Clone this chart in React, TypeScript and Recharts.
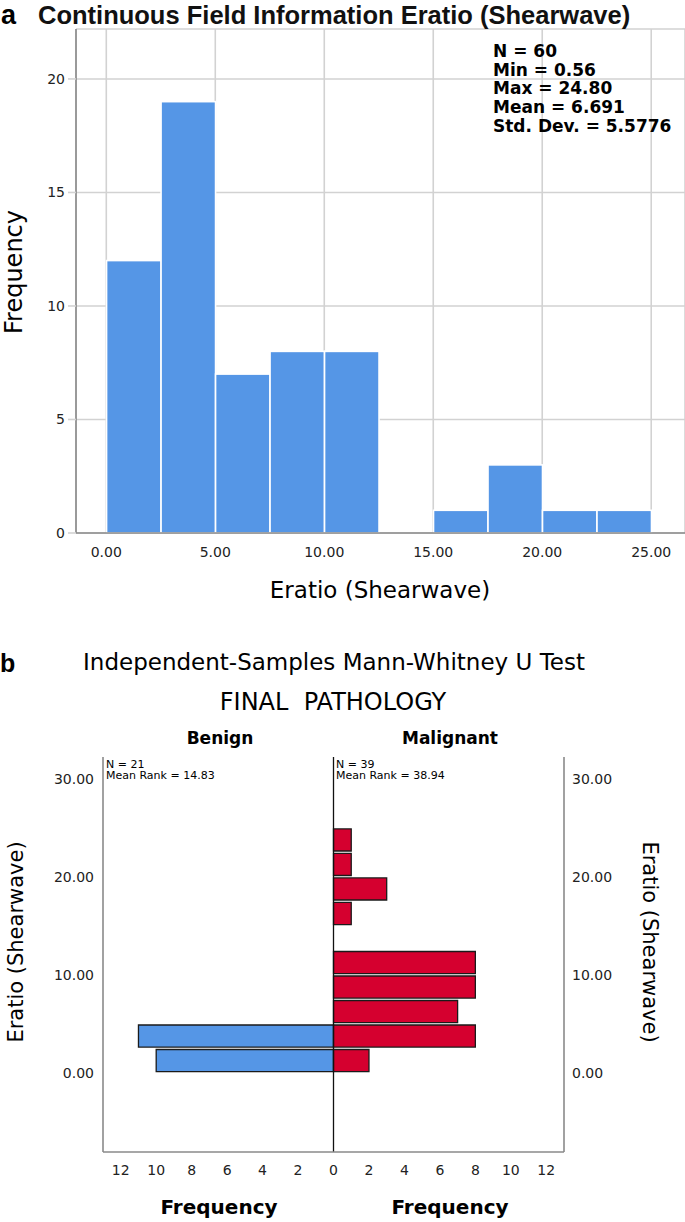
import React from 'react';
import { BarChart, Bar, XAxis, YAxis, CartesianGrid, ReferenceLine } from 'recharts';

// histogram bins (lower edge, width 2.5)
const binStarts = [0, 2.5, 5, 7.5, 10, 12.5, 15, 17.5, 20, 22.5];
const allCounts = [12, 19, 7, 8, 8, 0, 1, 3, 1, 1];
const benignCounts = [10, 11, 0, 0, 0, 0, 0, 0, 0, 0];
const malignantCounts = [2, 8, 7, 8, 8, 0, 1, 3, 1, 1];

const eratioTicks = [0, 5, 10, 15, 20, 25];
const freqTicks = [0, 5, 10, 15, 20];
const eratioTicksB = [0, 10, 20, 30];
const freqTicksB = [-12, -10, -8, -6, -4, -2, 0, 2, 4, 6, 8, 10, 12];

const statLines = ['N = 60', 'Min = 0.56', 'Max = 24.80', 'Mean = 6.691', 'Std. Dev. = 5.5776'];
const benignStats = ['N = 21', 'Mean Rank = 14.83'];
const malignantStats = ['N = 39', 'Mean Rank = 38.94'];

const BIN_W = 2.5;
const BLUE = '#5596e6';
const RED = '#d5002f';
const GRID = '#d2d2d2';
const AXIS = '#8a8a8a';
const SPSS = '"DejaVu Sans", Verdana, sans-serif';
const TITLE = '"Liberation Sans", Arial, sans-serif';

const histData = binStarts.map((b, i) => ({ mid: b + BIN_W / 2, count: allCounts[i] }));
const pyramidData = binStarts.map((b, i) => ({
  mid: b + BIN_W / 2,
  benign: -benignCounts[i],
  malignant: malignantCounts[i],
}));

// chart a: plot 609 px wide
const A_LO = -1.39;
const A_HI = 26.55;
const aK = 609 / (A_HI - A_LO);

// chart b: plot 395 px tall
const B_LO = -8.06;
const B_HI = 32.24;
const bK = 395 / (B_HI - B_LO);

const TickText = (props: any) => {
  const { x, y, payload, textAnchor, fmt } = props;
  return (
    <text x={x} y={y} textAnchor={textAnchor} dominantBaseline="central" fontFamily={SPSS} fontSize={14} fill="#222">
      {fmt ? fmt(payload.value) : payload.value}
    </text>
  );
};

// full-bin-width histogram bar, centred where recharts puts the bar
const HistBar = (props: any) => {
  const { x, y, width, height } = props;
  if (!height) return null;
  const w = BIN_W * aK;
  return <rect x={x + width / 2 - w / 2} y={y} width={w} height={height} fill={BLUE} stroke="#ffffff" strokeWidth={1.6} />;
};

const fix2 = (v: number) => v.toFixed(2);
const absInt = (v: number) => `${Math.abs(v)}`;

export default function App() {
  return (
    <div style={{ position: 'absolute', left: 0, top: 0, width: 685, height: 1222, background: '#fff' }}>
      <div style={{ position: 'absolute', left: 0, top: 0 }}>
        <BarChart
          width={685}
          height={573}
          data={histData}
          margin={{ top: 29, right: 0, bottom: 0, left: 0 }}
          barCategoryGap={0}
          barGap={0}
        >
          <CartesianGrid stroke={GRID} strokeWidth={1.6} />
          <XAxis
            dataKey="mid"
            type="number"
            domain={[A_LO, A_HI]}
            ticks={eratioTicks}
            allowDataOverflow
            height={40}
            tickLine={false}
            tickSize={0}
            tickMargin={19}
            axisLine={{ stroke: AXIS, strokeWidth: 1.6 }}
            tick={(p: any) => <TickText {...p} fmt={fix2} />}
          />
          <YAxis
            type="number"
            domain={[0, 22.2]}
            ticks={freqTicks}
            allowDataOverflow
            width={76}
            tickSize={8}
            tickMargin={3}
            tickLine={{ stroke: GRID, strokeWidth: 1.6 }}
            axisLine={{ stroke: AXIS, strokeWidth: 1.6 }}
            tick={(p: any) => <TickText {...p} />}
          />
          <Bar dataKey="count" barSize={BIN_W * aK} shape={HistBar} fill={BLUE} isAnimationActive={false} />
        </BarChart>
      </div>

      <div style={{ position: 'absolute', left: 0, top: 640 }}>
        <BarChart
          width={685}
          height={582}
          data={pyramidData}
          layout="vertical"
          stackOffset="sign"
          margin={{ top: 117, right: 0, bottom: 40, left: 0 }}
          barCategoryGap={0}
          barGap={0}
        >
          <XAxis
            type="number"
            domain={[-13, 13]}
            ticks={freqTicksB}
            allowDataOverflow
            height={30}
            tickLine={false}
            tickSize={0}
            tickMargin={18}
            axisLine={{ stroke: AXIS, strokeWidth: 1.6 }}
            tick={(p: any) => <TickText {...p} fmt={absInt} />}
          />
          <YAxis
            yAxisId="numL"
            dataKey="mid"
            type="number"
            reversed
            domain={[B_LO, B_HI]}
            ticks={eratioTicksB}
            allowDataOverflow
            width={103}
            tickLine={false}
            tickSize={0}
            tickMargin={9}
            axisLine={{ stroke: AXIS, strokeWidth: 1.6 }}
            tick={(p: any) => <TickText {...p} fmt={fix2} />}
          />
          <YAxis
            yAxisId="numR"
            dataKey="mid"
            orientation="right"
            type="number"
            reversed
            domain={[B_LO, B_HI]}
            ticks={eratioTicksB}
            allowDataOverflow
            width={121}
            tickLine={false}
            tickSize={0}
            tickMargin={8}
            axisLine={{ stroke: AXIS, strokeWidth: 1.6 }}
            tick={(p: any) => <TickText {...p} fmt={fix2} />}
          />
          <Bar yAxisId="numL" dataKey="benign" stackId="s" barSize={BIN_W * bK} fill={BLUE} stroke="#1a1a1a" strokeWidth={1.3} isAnimationActive={false} />
          <Bar yAxisId="numL" dataKey="malignant" stackId="s" barSize={BIN_W * bK} fill={RED} stroke="#1a1a1a" strokeWidth={1.3} isAnimationActive={false} />
          <ReferenceLine x={0} yAxisId="numL" stroke="#111" strokeWidth={1.3} />
        </BarChart>
      </div>

      <svg width={685} height={1222} style={{ position: 'absolute', left: 0, top: 0, pointerEvents: 'none' }}>
        {/* panel a */}
        <text x={1} y={24} fontFamily={TITLE} fontWeight="bold" fontSize={27} fill="#000">a</text>
        <text x={38} y={24} fontFamily={TITLE} fontWeight="bold" fontSize={25.5} fill="#111">
          Continuous Field Information Eratio (Shearwave)
        </text>
        {statLines.map((s, i) => (
          <text key={s} x={493} y={57 + i * 18.7} fontFamily={SPSS} fontWeight="bold" fontSize={17} fill="#000">{s}</text>
        ))}
        <text
          transform="translate(14,272) rotate(-90)"
          textAnchor="middle"
          dominantBaseline="central"
          fontFamily={SPSS}
          fontSize={24}
          fill="#000"
        >
          Frequency
        </text>
        <text x={380} y={598} textAnchor="middle" fontFamily={SPSS} fontSize={23} fill="#000">Eratio (Shearwave)</text>

        {/* panel b */}
        <text x={0} y={672} fontFamily={TITLE} fontWeight="bold" fontSize={25} fill="#000">b</text>
        <text x={334} y={670} textAnchor="middle" fontFamily={SPSS} fontSize={23} fill="#000">
          Independent-Samples Mann-Whitney U Test
        </text>
        <text x={333} y={710} textAnchor="middle" fontFamily={SPSS} fontSize={24} fill="#000" style={{ whiteSpace: 'pre' }}>
          {'FINAL  PATHOLOGY'}
        </text>
        <text x={220} y={744} textAnchor="middle" fontFamily={SPSS} fontWeight="bold" fontSize={17} fill="#000">Benign</text>
        <text x={450} y={744} textAnchor="middle" fontFamily={SPSS} fontWeight="bold" fontSize={17} fill="#000">Malignant</text>
        {benignStats.map((s, i) => (
          <text key={s} x={106} y={768 + i * 11} fontFamily={SPSS} fontSize={11} fill="#000">{s}</text>
        ))}
        {malignantStats.map((s, i) => (
          <text key={s} x={336} y={768 + i * 11} fontFamily={SPSS} fontSize={11} fill="#000">{s}</text>
        ))}
        <text
          transform="translate(16,942) rotate(-90)"
          textAnchor="middle"
          dominantBaseline="central"
          fontFamily={SPSS}
          fontSize={21}
          fill="#000"
        >
          Eratio (Shearwave)
        </text>
        <text
          transform="translate(650,942) rotate(90)"
          textAnchor="middle"
          dominantBaseline="central"
          fontFamily={SPSS}
          fontSize={21}
          fill="#000"
        >
          Eratio (Shearwave)
        </text>
        <text x={219} y={1214} textAnchor="middle" fontFamily={SPSS} fontWeight="bold" fontSize={20} fill="#000">Frequency</text>
        <text x={450} y={1214} textAnchor="middle" fontFamily={SPSS} fontWeight="bold" fontSize={20} fill="#000">Frequency</text>
      </svg>
    </div>
  );
}
